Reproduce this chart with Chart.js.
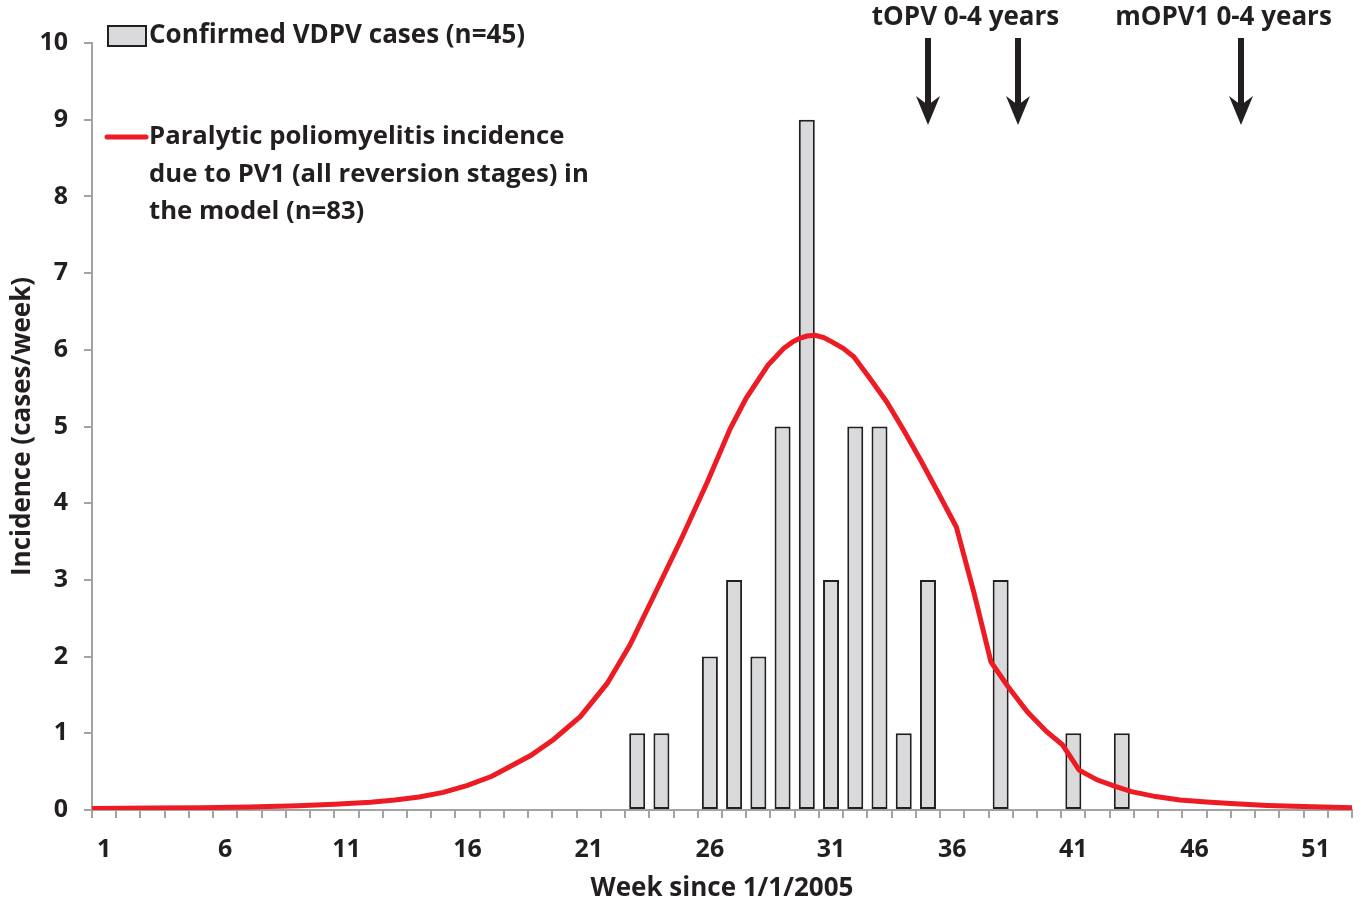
<!DOCTYPE html>
<html>
<head>
<meta charset="utf-8">
<script src="https://cdn.jsdelivr.net/npm/chart.js@4.4.1/dist/chart.umd.min.js"></script>
<style>
    html, body { margin: 0; padding: 0; background: #ffffff; }
    #wrap { width: 1363px; height: 910px; }
</style>
</head>
<body>
<div id="wrap"><canvas id="vdpvChart" width="1363" height="910"></canvas></div>
<script>
// Week categories on the x axis
const weekLabels = ["1", "2", "3", "4", "5", "6", "7", "8", "9", "10", "11", "12", "13",
    "14", "15", "16", "17", "18", "19", "20", "21", "22", "23", "24", "25", "26",
    "27", "28", "29", "30", "31", "32", "33", "34", "35", "36", "37", "38", "39",
    "40", "41", "42", "43", "44", "45", "46", "47", "48", "49", "50", "51", "52"];

// Confirmed VDPV cases per week (only weeks with cases)
const caseWeeks = ["23", "24", "26", "27", "28", "29", "30", "31", "32", "33", "34", "35", "38", "41", "43"];
const caseCounts = [1, 1, 2, 3, 2, 5, 9, 3, 5, 5, 1, 3, 3, 1, 1];

// Model incidence curve (week, cases/week)
const modelWeeks = [0.5, 3, 5, 7, 9, 10.5, 12, 13, 14, 15, 16, 17, 17.6, 18.6, 19.55, 20.66,
    21.76, 22.7, 23.7, 24.8, 25.9, 26.85, 27.5, 28.4, 29.05, 29.4, 29.7, 30.0, 30.35, 30.7,
    31.0, 31.5, 31.94, 32.6, 33.3, 34.0, 34.7, 35.4, 36.17, 36.9, 37.6, 38.3, 39.1, 39.9,
    40.55, 41.24, 42.0, 42.7, 43.4, 44.4, 45.4, 46.5, 47.5, 49, 50.5, 52.5];
const modelIncidence = [0.02, 0.025, 0.03, 0.04, 0.055, 0.075, 0.1, 0.13, 0.17, 0.23, 0.32,
    0.44, 0.54, 0.71, 0.92, 1.22, 1.65, 2.15, 2.80, 3.52, 4.28, 4.98, 5.37, 5.80, 6.02, 6.10,
    6.15, 6.18, 6.19, 6.16, 6.11, 6.02, 5.91, 5.63, 5.32, 4.95, 4.56, 4.15, 3.69, 2.83, 1.93,
    1.61, 1.28, 1.02, 0.85, 0.52, 0.39, 0.31, 0.24, 0.175, 0.13, 0.105, 0.085, 0.06, 0.045, 0.03];

const yTicks = [0, 1, 2, 3, 4, 5, 6, 7, 8, 9, 10];

// Vaccination campaign markers
const campaignArrowWeeks = [35, 38.7, 47.9];
const campaignLabels = ["tOPV 0-4 years", "mOPV1 0-4 years"];
const campaignLabelWeeks = [36.55, 47.2];

const legendBarLabel = "Confirmed VDPV cases (n=45)";
const legendLineLabel = ["Paralytic poliomyelitis incidence",
    "due to PV1 (all reversion stages) in",
    "the model (n=83)"];

const textColor = "#231F20";
const axisColor = "#A3A3A3";
const barFill = "#D9DADC";
const lineRed = "#ED1C24";
const fontFamily = "'Open Sans', 'DejaVu Sans', sans-serif";

const overlayPlugin = {
    id: "overlay",
    afterDraw(chart) {
        const ctx = chart.ctx;
        const x2 = chart.scales.x2;
        ctx.save();

        // Legend: bar entry
        ctx.fillStyle = barFill;
        ctx.strokeStyle = textColor;
        ctx.lineWidth = 2;
        ctx.fillRect(108, 26, 38, 20);
        ctx.strokeRect(108, 26, 38, 20);
        ctx.fillStyle = textColor;
        ctx.font = `bold 26px ${fontFamily}`;
        ctx.textAlign = "left";
        ctx.textBaseline = "middle";
        ctx.fillText(legendBarLabel, 149, 36);

        // Legend: line entry
        ctx.strokeStyle = lineRed;
        ctx.lineWidth = 5;
        ctx.lineCap = "round";
        ctx.beginPath();
        ctx.moveTo(107, 137);
        ctx.lineTo(146, 137);
        ctx.stroke();
        ctx.font = `bold 25.7px ${fontFamily}`;
        legendLineLabel.forEach((line, i) => {
            ctx.fillText(line, 149, 137 + i * 37.5);
        });

        // Campaign labels and arrows
        ctx.font = `bold 26px ${fontFamily}`;
        ctx.textAlign = "center";
        campaignLabels.forEach((label, i) => {
            ctx.fillText(label, x2.getPixelForValue(campaignLabelWeeks[i]), 18);
        });
        ctx.strokeStyle = textColor;
        ctx.fillStyle = textColor;
        ctx.lineCap = "butt";
        campaignArrowWeeks.forEach((week) => {
            const ax = Math.round(x2.getPixelForValue(week));
            ctx.lineWidth = 6;
            ctx.beginPath();
            ctx.moveTo(ax, 38);
            ctx.lineTo(ax, 108);
            ctx.stroke();
            ctx.beginPath();
            ctx.moveTo(ax - 12, 96);
            ctx.lineTo(ax, 125);
            ctx.lineTo(ax + 12, 96);
            ctx.lineTo(ax, 105);
            ctx.closePath();
            ctx.fill();
        });

        ctx.restore();
    },
};

const ctx = document.getElementById("vdpvChart").getContext("2d");
const vdpvChart = new Chart(ctx, {
    type: "bar",
    data: {
        labels: weekLabels,
        datasets: [
            {
                type: "line",
                label: "Model incidence",
                data: modelWeeks.map((w, i) => ({ x: w, y: modelIncidence[i] })),
                xAxisID: "x2",
                borderColor: lineRed,
                borderWidth: 5,
                pointRadius: 0,
                tension: 0,
                fill: false,
                order: 0,
            },
            {
                type: "bar",
                label: "Confirmed VDPV cases",
                data: caseWeeks.map((w, i) => ({ x: w, y: caseCounts[i] })),
                xAxisID: "x",
                backgroundColor: barFill,
                borderColor: textColor,
                borderWidth: 2,
                borderSkipped: false,
                grouped: false,
                categoryPercentage: 1,
                barPercentage: 0.66,
                order: 1,
            },
        ],
    },
    options: {
        responsive: false,
        animation: false,
        devicePixelRatio: 1,
        layout: { padding: { top: 43, right: 11, left: 0, bottom: 0 } },
        plugins: {
            legend: { display: false },
            tooltip: { enabled: false },
        },
        scales: {
            x: {
                type: "category",
                offset: true,
                afterFit: (scale) => { scale.height = 100; },
                grid: {
                    offset: true,
                    drawOnChartArea: false,
                    drawTicks: true,
                    tickLength: 8,
                    color: axisColor,
                    lineWidth: 2,
                },
                border: { color: axisColor, width: 2 },
                ticks: {
                    autoSkip: false,
                    maxRotation: 0,
                    padding: 17,
                    color: textColor,
                    font: { family: fontFamily, size: 25, weight: "bold" },
                    callback: (value, index) => (index % 5 === 0 ? weekLabels[index] : ""),
                },
                title: {
                    display: true,
                    text: "Week since 1/1/2005",
                    color: textColor,
                    font: { family: fontFamily, size: 26, weight: "bold" },
                    padding: { top: 0, bottom: 6 },
                },
            },
            x2: {
                type: "linear",
                display: false,
                offset: false,
                grid: { offset: false },
                min: 0.5,
                max: 52.5,
            },
            y: {
                min: 0,
                max: 10,
                afterFit: (scale) => { scale.width = 92; },
                afterBuildTicks: (scale) => { scale.ticks = yTicks.map((v) => ({ value: v })); },
                grid: {
                    drawOnChartArea: false,
                    drawTicks: true,
                    tickLength: 8,
                    color: axisColor,
                    lineWidth: 2,
                },
                border: { color: axisColor, width: 2 },
                ticks: {
                    padding: 16,
                    color: textColor,
                    font: { family: fontFamily, size: 25, weight: "bold" },
                },
                title: {
                    display: true,
                    text: "Incidence (cases/week)",
                    color: textColor,
                    font: { family: fontFamily, size: 26, weight: "bold" },
                    padding: { top: 7, bottom: 0 },
                },
            },
        },
    },
    plugins: [overlayPlugin],
});
</script>
</body>
</html>
